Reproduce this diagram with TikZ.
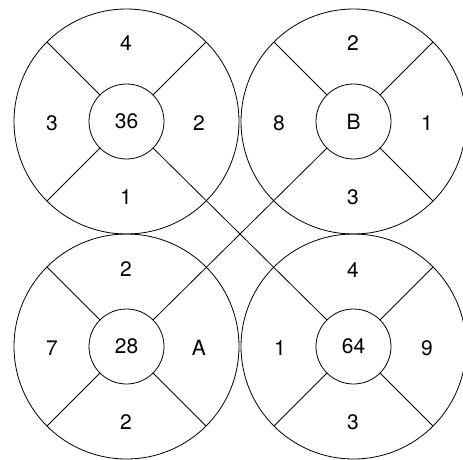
\documentclass[tikz,border=0pt]{standalone}
\usepackage{fontspec}
\setmainfont{TeX Gyre Heros}
\begin{document}
\begin{tikzpicture}[x=1pt,y=-1pt,
  outerc/.style={circle,draw,line width=0.8pt,inner sep=0pt,outer sep=0pt,minimum size=225pt},
  innerc/.style={circle,draw,line width=0.8pt,inner sep=0pt,outer sep=0pt,minimum size=75pt,font=\fontsize{21}{25}\selectfont},
  lbl/.style={font=\fontsize{21}{25}\selectfont,inner sep=0pt},
  spoke/.style={line width=0.8pt}]
\useasboundingbox (0,0) rectangle (463,460);
% circles
\node[outerc] (tlo) at (126.5,121.5) {};
\node[outerc] (tro) at (353.5,121.5) {};
\node[outerc] (blo) at (126.5,346.5) {};
\node[outerc] (bro) at (353.5,346.5) {};
\node[innerc] (tli) at (126.5,121.5) {36};
\node[innerc] (tri) at (353.5,121.5) {B};
\node[innerc] (bli) at (126.5,346.5) {28};
\node[innerc] (bri) at (353.5,346.5) {64};
% spokes
\draw[spoke] (tli.north west) -- (tlo.north west);
\draw[spoke] (tli.north east) -- (tlo.north east);
\draw[spoke] (tli.south west) -- (tlo.south west);
\draw[spoke] (tri.north west) -- (tro.north west);
\draw[spoke] (tri.north east) -- (tro.north east);
\draw[spoke] (tri.south east) -- (tro.south east);
\draw[spoke] (bli.north west) -- (blo.north west);
\draw[spoke] (bli.south west) -- (blo.south west);
\draw[spoke] (bli.south east) -- (blo.south east);
\draw[spoke] (bri.north east) -- (bro.north east);
\draw[spoke] (bri.south west) -- (bro.south west);
\draw[spoke] (bri.south east) -- (bro.south east);
% long diagonals
\draw[spoke] (tli.south east) -- (bri.north west);
\draw[spoke] (tri.south west) -- (bli.north east);
% labels top-left
\node[lbl] (tl1) at (126,43) {4};
\node[lbl] (tl2) at (52,123) {3};
\node[lbl] (tl3) at (199,123) {2};
\node[lbl] (tl4) at (126,197) {1};
% labels top-right
\node[lbl] (tr1) at (353,43) {2};
\node[lbl] (tr2) at (279,123) {8};
\node[lbl] (tr3) at (427,123) {1};
\node[lbl] (tr4) at (353,197) {3};
% labels bottom-left
\node[lbl] (bl1) at (126,269) {2};
\node[lbl] (bl2) at (52,348) {7};
\node[lbl] (bl3) at (199,348) {A};
\node[lbl] (bl4) at (126,422) {2};
% labels bottom-right
\node[lbl] (br1) at (353,270) {4};
\node[lbl] (br2) at (280,348) {1};
\node[lbl] (br3) at (427,348) {9};
\node[lbl] (br4) at (353,422) {3};
\end{tikzpicture}
\end{document}
